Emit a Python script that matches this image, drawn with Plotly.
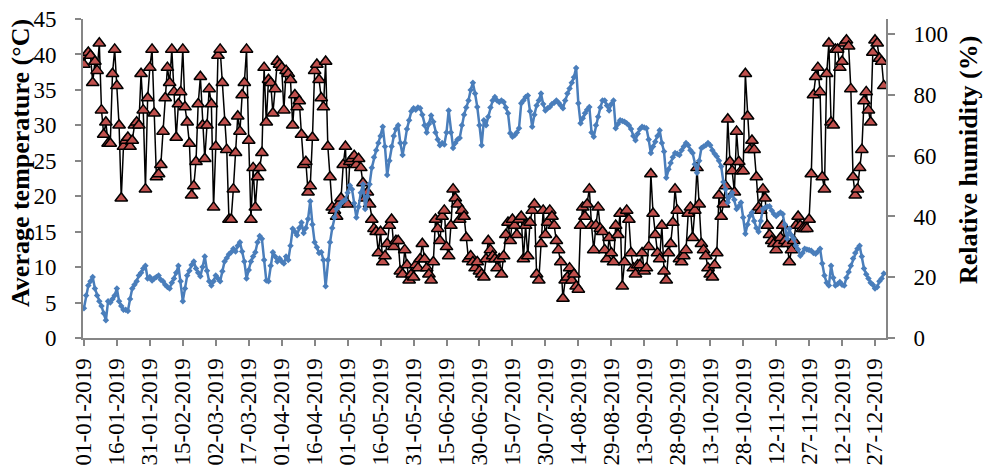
import pandas as pd
import plotly.graph_objects as go

# ---- Average temperature (°C), daily, by month ----
temp_jan = [4.2, 6, 7.4, 8, 8.6, 7, 6, 5.2, 4.5, 3.5, 2.5, 5.2, 5, 5.5, 6, 7, 5.2, 4.5, 4, 4,
            3.8, 5.5, 7, 7.5, 8, 8.8, 9.2, 9.8, 10.2, 8.4, 8.6]
temp_feb = [8.1, 8.4, 8.6, 8.8, 8.2, 8, 7.5, 7.2, 7, 7.8, 8.4, 9.2, 10.2, 8, 5.2, 7, 8.8, 9.5,
            10.3, 10.8, 9.8, 9.2, 8.7, 10, 11.5, 9.5, 8, 7.4]
temp_mar = [8, 8.8, 8.4, 8, 9.4, 10.8, 11.3, 11.8, 12.1, 12.6, 12.2, 13, 13.5, 12.2, 10.8, 8.4,
            9.6, 10.8, 11.5, 12.1, 13.5, 14.4, 14, 11, 8.1, 8, 10.2, 12.1, 11.5, 10.8, 11.2]
temp_apr = [10.8, 10.5, 11.5, 11, 13, 15.4, 15, 14.5, 15.5, 16.3, 14.8, 15.5, 16.8, 19.3, 16,
            13.5, 12.8, 12, 12.1, 11, 7.3, 11, 13.5, 15.5, 17, 18.2, 18.5, 19, 19.3, 19.5]
temp_may = [20.5, 21.5, 21, 19, 17, 18.5, 20.5, 21.7, 18.2, 20, 21.7, 24, 25.5, 26.5, 27.5,
            28.5, 29.8, 27, 23, 25, 27, 28.5, 29.5, 30, 27.5, 25.8, 27.5, 29.5, 30.7, 32, 32.4]
temp_jun = [32.2, 32.5, 32.4, 31.5, 30, 29, 30.2, 31.4, 30.5, 29, 28, 27.2, 27.5, 27.3, 29,
            32.1, 29, 26.8, 27.5, 28, 28.2, 30, 31.5, 32.5, 33.5, 35, 36, 34.5, 32.6, 30]
temp_jul = [27.2, 30.7, 30, 31.2, 32.5, 33.5, 34, 33.5, 33.3, 33.5, 33.3, 32.5, 31.7, 28.9,
            28.4, 28.6, 29, 29.6, 33.1, 33.5, 34, 34.2, 32, 29.8, 31.5, 32.8, 33.5, 34.5, 33,
            32.1, 32.4]
temp_aug = [32.6, 33, 33.2, 33.5, 33.2, 32.8, 32.4, 33.5, 34.5, 35.2, 36, 36.8, 38.1, 33.1,
            30.3, 31, 31.7, 32.2, 32.6, 29, 28.4, 30, 31.2, 32.5, 33.5, 33.5, 32.8, 32.1, 33,
            33.5, 29.6]
temp_sep = [30.2, 30.7, 30.6, 30.5, 30.3, 30, 29.5, 28.5, 27.9, 28.8, 29.5, 29.8, 29.7, 29.6,
            28, 26.1, 27, 27.7, 28.5, 29.3, 27.5, 26.3, 22.6, 23.8, 24.7, 25.5, 26.1, 26, 25.8,
            26.5]
temp_oct = [27, 27.5, 27.2, 26.5, 26.1, 24.5, 23.3, 25, 26.8, 27, 27.2, 27.5, 27.2, 26.5, 26,
            25.6, 25, 24.2, 22, 21, 19.1, 20, 20.5, 19.5, 18.2, 18.6, 19.1, 17, 14.7, 16, 17.2]
temp_nov = [17.7, 16.5, 15.5, 15, 16.5, 18.2, 18.4, 18.5, 18.6, 18, 17.5, 17.2, 17.5, 17.7,
            17.5, 16, 14, 15.4, 14.5, 14, 13, 12.5, 11.6, 12, 12.6, 12.5, 12.4, 12.3, 12, 11.9]
temp_dec = [12.2, 12.6, 10.5, 8.8, 7.8, 7.4, 10.2, 8.5, 7.4, 7.6, 7.9, 7.5, 7.4, 8.5, 9.3,
            10.2, 11.2, 12, 12.6, 13, 11.5, 9.8, 9, 8.4, 7.8, 7.5, 7, 7.2, 8, 8.4, 9.1]

# ---- Relative humidity (%), daily, by month ----
hum_jan = [90, 93, 94, 93, 84, 91, 88, 97, 75, 67, 71, 64, 64, 87, 95, 83, 70, 46, 63, 65, 66,
           63, 65, 70, 71, 70, 87, 75, 49, 79, 89]
hum_feb = [95, 74, 53, 54, 57, 68, 79, 89, 84, 95, 81, 66, 77, 81, 95, 76, 71, 64, 47, 50, 58,
           77, 86, 70, 59, 70, 82, 77]
hum_mar = [43, 63, 93, 95, 84, 71, 62, 39, 39, 49, 61, 73, 68, 80, 84, 95, 65, 39, 56, 43, 53,
           56, 61, 89, 71, 85, 84, 74, 82, 91, 90]
hum_apr = [89, 75, 88, 87, 85, 70, 80, 76, 78, 67, 57, 58, 48, 50, 66, 88, 90, 85, 79, 76, 91,
           63, 53, 43, 42, 40, 44, 46, 57, 63]
hum_may = [44, 58, 59, 60, 57, 59, 56, 51, 46, 48, 44, 39, 36, 35, 28, 35, 25, 27, 31, 37, 39,
           30, 32, 32, 22, 21, 29, 24, 19, 21, 20]
hum_jun = [24, 23, 26, 31, 26, 23, 21, 19, 25, 39, 36, 32, 40, 42, 30, 27, 37, 49, 46, 44, 39,
           42, 40, 33, 26, 27, 25, 23, 25, 22]
hum_jul = [21, 20, 26, 32, 29, 27, 26, 23, 26, 21, 27, 34, 38, 32, 39, 37, 34, 39, 40, 26, 37,
           27, 38, 42, 44, 21, 19, 31, 42, 34, 38]
hum_aug = [42, 40, 37, 32, 29, 25, 13, 19, 20, 23, 19, 21, 17, 16, 37, 43, 40, 44, 49, 37, 29,
           37, 43, 36, 35, 29, 26, 33, 28, 25, 37]
hum_sep = [34, 41, 17, 25, 42, 39, 28, 23, 21, 24, 24, 28, 22, 23, 30, 54, 41, 34, 28, 26, 37,
           22, 19, 28, 31, 38, 49, 42, 26, 25]
hum_oct = [27, 29, 41, 43, 33, 42, 56, 44, 31, 29, 27, 23, 21, 20, 24, 28, 47, 40, 44, 50, 72,
           58, 55, 48, 68, 58, 55, 55, 87, 73, 62]
hum_nov = [65, 62, 53, 43, 42, 49, 46, 37, 34, 32, 31, 29, 31, 33, 37, 32, 31, 25, 29, 32, 37,
           40, 37, 36, 36, 36, 39, 54, 80, 86]
hum_dec = [89, 81, 53, 49, 87, 97, 71, 70, 95, 95, 89, 91, 97, 98, 96, 82, 53, 47, 49, 56, 62,
           78, 81, 75, 71, 94, 98, 97, 92, 91, 83]

tick_labels = ["01-01-2019", "16-01-2019", "31-01-2019", "15-02-2019", "02-03-2019",
               "17-03-2019", "01-04-2019", "16-04-2019", "01-05-2019", "16-05-2019",
               "31-05-2019", "15-06-2019", "30-06-2019", "15-07-2019", "30-07-2019",
               "14-08-2019", "29-08-2019", "13-09-2019", "28-09-2019", "13-10-2019",
               "28-10-2019", "12-11-2019", "27-11-2019", "12-12-2019", "27-12-2019"]

left_title = "Average temperature (°C)"
right_title = "Relative humidity (%)"

temperature = (temp_jan + temp_feb + temp_mar + temp_apr + temp_may + temp_jun +
               temp_jul + temp_aug + temp_sep + temp_oct + temp_nov + temp_dec)
humidity = (hum_jan + hum_feb + hum_mar + hum_apr + hum_may + hum_jun +
            hum_jul + hum_aug + hum_sep + hum_oct + hum_nov + hum_dec)

dates_t = pd.date_range("2019-01-01", periods=len(temperature), freq="D")
dates_h = pd.date_range("2019-01-01", periods=len(humidity), freq="D")
tick_vals = pd.to_datetime(tick_labels, format="%d-%m-%Y")

FONT = "Liberation Serif, Times New Roman, serif"
AXIS_GREY = "#868686"
W, H = 985, 472
ML, MR, MT, MB = 83, 99, 19, 134

fig = go.Figure()
fig.add_trace(go.Scatter(
    x=dates_h, y=humidity, yaxis="y", mode="lines+markers",
    name=right_title,
    line=dict(color="black", width=1.5),
    marker=dict(symbol="triangle-up", size=11, color="#C0504D",
                line=dict(color="black", width=1.5)),
))
fig.add_trace(go.Scatter(
    x=dates_t, y=temperature, yaxis="y2", mode="lines+markers",
    name=left_title,
    line=dict(color="#4A7EBB", width=2.5),
    marker=dict(symbol="diamond", size=5, color="#4A7EBB"),
))

axis_common = dict(
    ticks="outside", tickcolor=AXIS_GREY, tickwidth=1.5,
    showline=True, linecolor=AXIS_GREY, linewidth=2,
    showgrid=False, zeroline=False, automargin=False,
    tickfont=dict(family=FONT, size=23, color="black"),
)

fig.update_layout(
    width=W, height=H,
    margin=dict(l=ML, r=MR, t=MT, b=MB, autoexpand=False),
    paper_bgcolor="white", plot_bgcolor="white",
    showlegend=False,
    font=dict(family=FONT, size=23, color="black"),
    xaxis=dict(
        type="date",
        range=["2018-12-31 14:00", "2020-01-01 00:00"],
        tickvals=tick_vals, ticktext=tick_labels, tickangle=-90,
        ticklen=6, ticklabelstandoff=3, **axis_common,
    ),
    yaxis=dict(
        side="right", range=[0, 105], tickvals=[0, 20, 40, 60, 80, 100],
        ticklen=7, ticklabelstandoff=14, **axis_common,
    ),
    yaxis2=dict(
        overlaying="y", side="left", range=[0, 45], dtick=5, tick0=0,
        ticklen=6, ticklabelstandoff=14, **axis_common,
    ),
    annotations=[
        dict(text="<b>" + left_title + "</b>", textangle=-90,
             xref="paper", yref="paper",
             x=(20 - ML) / (W - ML - MR), y=1 - (163 - MT) / (H - MT - MB),
             xanchor="center", yanchor="middle", showarrow=False,
             font=dict(family=FONT, size=26, color="black")),
        dict(text="<b>" + right_title + "</b>", textangle=-90,
             xref="paper", yref="paper",
             x=(968 - ML) / (W - ML - MR), y=1 - (160 - MT) / (H - MT - MB),
             xanchor="center", yanchor="middle", showarrow=False,
             font=dict(family=FONT, size=26, color="black")),
    ],
)

fig.write_html(
    "out.html",
    config={"displayModeBar": False},
    post_script="document.body.style.margin='0';document.body.style.overflow='hidden';",
)
